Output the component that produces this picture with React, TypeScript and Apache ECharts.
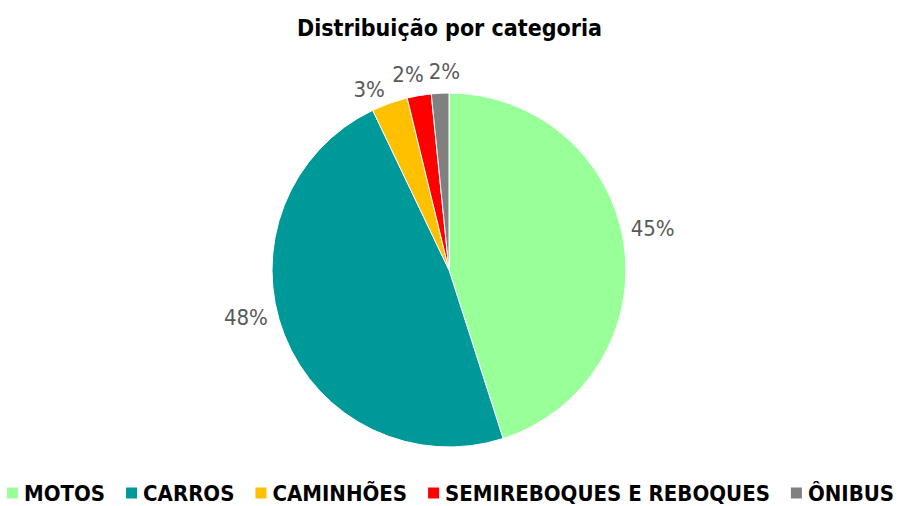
import React, { useEffect, useRef } from "react";
import * as echarts from "echarts";

const categories = ["MOTOS", "CARROS", "CAMINHÕES", "SEMIREBOQUES E REBOQUES", "ÔNIBUS"];
const values = [45.1, 47.9, 3.3, 2.2, 1.6];
const colors = ["#99FF99", "#009999", "#FFC000", "#FF0000", "#808080"];
const titleText = "Distribuição por categoria";

const FONT = "'DejaVu Sans Condensed', 'DejaVu Sans', sans-serif";
// small label nudges (pixels) to match the reference's best-fit label placement
const labelNudge: [number, number][] = [[-13, -11], [2, -25], [2, 5], [8, -1], [21, -2]];

export default function App() {
  const ref = useRef<HTMLDivElement>(null);
  useEffect(() => {
    if (!ref.current) return;
    const chart = echarts.init(ref.current, undefined, { renderer: "svg" });
    chart.setOption({
      animation: false,
      backgroundColor: "#ffffff",
      title: {
        text: titleText,
        left: "center",
        top: 11,
        textStyle: { fontFamily: FONT, fontWeight: "bold", fontSize: 23, color: "#000000" },
      },
      legend: {
        data: categories,
        left: "center",
        top: 482,
        padding: 0,
        icon: "rect",
        itemWidth: 13,
        itemHeight: 13,
        itemGap: 19,
        textStyle: { fontFamily: FONT, fontWeight: "bold", fontSize: 22, color: "#000000", lineHeight: 22 },
      },
      series: [
        {
          type: "pie",
          center: [449, 270],
          radius: 177,
          startAngle: 90,
          clockwise: true,
          avoidLabelOverlap: false,
          itemStyle: { borderColor: "#ffffff", borderWidth: 1 },
          label: {
            show: true,
            position: "outside",
            fontFamily: FONT,
            fontSize: 22,
            color: "#595959",
            distanceToLabelLine: 0,
            formatter: (p: any) => Math.round(p.percent) + "%",
          },
          labelLine: { show: false, length: 20, length2: 0 },
          labelLayout: (p: any) => ({
            hideOverlap: false,
            dx: labelNudge[p.dataIndex][0],
            dy: labelNudge[p.dataIndex][1],
          }),
          emphasis: { disabled: true },
          data: categories.map((name, i) => ({
            name,
            value: values[i],
            itemStyle: { color: colors[i] },
          })),
        },
      ],
    });
    return () => chart.dispose();
  }, []);
  return <div ref={ref} style={{ position: "fixed", left: 0, top: 0, width: 899, height: 506 }} />;
}
